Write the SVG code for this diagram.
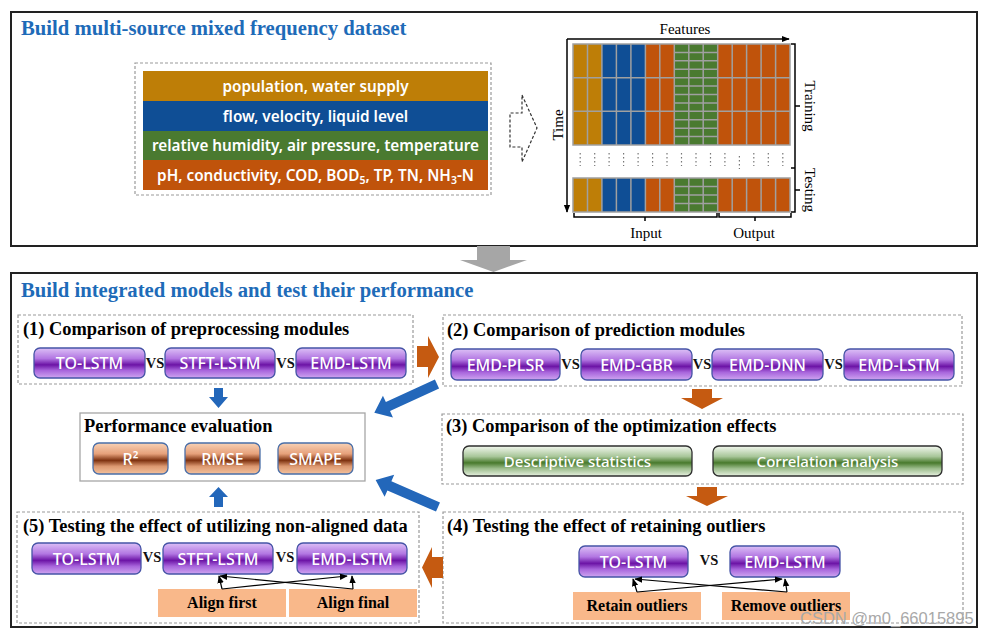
<svg xmlns="http://www.w3.org/2000/svg" width="991" height="636" viewBox="0 0 991 636">
<defs>
<linearGradient id="gP" x1="0" y1="0" x2="0" y2="1">
<stop offset="0" stop-color="#DCC0F6"/><stop offset="0.35" stop-color="#B276E2"/><stop offset="0.56" stop-color="#6C14A6"/><stop offset="0.75" stop-color="#A865DC"/><stop offset="1" stop-color="#CFA6F1"/>
</linearGradient>
<linearGradient id="gC" x1="0" y1="0" x2="0" y2="1">
<stop offset="0" stop-color="#F8D2B6"/><stop offset="0.35" stop-color="#E6A07A"/><stop offset="0.56" stop-color="#7E3210"/><stop offset="0.75" stop-color="#DC9870"/><stop offset="1" stop-color="#F4C29E"/>
</linearGradient>
<linearGradient id="gG" x1="0" y1="0" x2="0" y2="1">
<stop offset="0" stop-color="#F3F8EF"/><stop offset="0.35" stop-color="#A8C699"/><stop offset="0.56" stop-color="#487A2C"/><stop offset="0.75" stop-color="#9CBD8C"/><stop offset="1" stop-color="#E7F0E0"/>
</linearGradient>
<marker id="ah" viewBox="0 0 10 10" refX="9" refY="5" markerWidth="8" markerHeight="8" orient="auto" markerUnits="userSpaceOnUse"><path d="M0,1 L10,5 L0,9 z" fill="#000"/></marker>
<style>
.panel{fill:#fff;stroke:#222;stroke-width:2}
.dash{fill:none;stroke:#9A9A9A;stroke-width:1.2;stroke-dasharray:3 2}
.h1{font-family:"Liberation Serif","Times New Roman",serif;font-weight:bold;font-size:20.7px;fill:#1E6BB8}
.h2{font-family:"Liberation Serif","Times New Roman",serif;font-weight:bold;font-size:18.4px;fill:#000}
.vs{font-family:"Liberation Serif","Times New Roman",serif;font-weight:bold;font-size:14.5px;fill:#111;text-anchor:middle}
.lab{font-family:"Liberation Serif","Times New Roman",serif;font-size:15px;fill:#000}
.band{font-family:"Noto Sans","DejaVu Sans",sans-serif;font-weight:600;font-size:15.3px;fill:#fff;text-anchor:middle}
.bp{fill:url(#gP);stroke:#4654A6;stroke-width:1.3}
.bc{fill:url(#gC);stroke:#4A6FA8;stroke-width:1.3}
.bg{fill:url(#gG);stroke:#2E2E2E;stroke-width:1.3}
.bt{font-family:"Noto Sans","DejaVu Sans",sans-serif;font-weight:500;font-size:16px;fill:#fff;text-anchor:middle}
.gt{font-family:"Noto Sans","DejaVu Sans",sans-serif;font-weight:500;font-size:15px;fill:#fff;text-anchor:middle}
.ob{fill:#F9B88A}
.ot{font-family:"Liberation Serif","Times New Roman",serif;font-weight:bold;font-size:16px;fill:#000;text-anchor:middle}
.thin{fill:none;stroke:#000;stroke-width:1.2;marker-end:url(#ah)}
.oa{fill:#C55A11}
.ba{fill:#2367BA}
.grid{fill:none;stroke:#A0A0A0;stroke-width:1.5}
.dots{fill:none;stroke:#777;stroke-width:1.2;stroke-dasharray:1.5 2.5}
</style>
</defs>
<rect width="991" height="636" fill="#fff"/>

<!-- Panel 1 -->
<g id="panel-dataset">
<rect class="panel" x="11" y="12" width="966" height="234"/>
<text class="h1" x="21" y="35">Build multi-source mixed frequency dataset</text>
</g>

<g id="data-sources">
<rect class="dash" x="135" y="63" width="356" height="132"/>
<rect x="143" y="71" width="345" height="30" fill="#BE7E07"/>
<rect x="143" y="101" width="345" height="30" fill="#0F4E95"/>
<rect x="143" y="131" width="345" height="29" fill="#4A7A30"/>
<rect x="143" y="160" width="345" height="30" fill="#C0530B"/>
<text class="band" x="315.5" y="91.5">population, water supply</text>
<text class="band" x="315.5" y="121.5">flow, velocity, liquid level</text>
<text class="band" x="315.5" y="151">relative humidity, air pressure,  temperature</text>
<text class="band" x="315.5" y="180.5">pH, conductivity, COD, BOD<tspan font-size="10.5" dy="3">5</tspan><tspan dy="-3">, TP, TN, NH</tspan><tspan font-size="10.5" dy="3">3</tspan><tspan dy="-3">-N</tspan></text>
</g>

<g id="outline-arrow">
<polygon points="522,95 537,128 522,162 522,147 510,147 510,113 522,113" fill="none" stroke="#333" stroke-width="1.2" stroke-dasharray="3 2"/>
</g>

<g id="matrix">
<rect x="573" y="44" width="28.9" height="101" fill="#BE7E07"/>
<rect x="601.9" y="44" width="43.5" height="101" fill="#0F4E95"/>
<rect x="645.4" y="44" width="28.9" height="101" fill="#C0530B"/>
<rect x="674.3" y="44" width="43.4" height="101" fill="#4A7A30"/>
<rect x="717.7" y="44" width="72.3" height="101" fill="#C0530B"/>
<path class="grid" d="M573,44H790V145H573Z M573,77.7H790 M573,111.3H790 M587.5,44V145 M601.9,44V145 M616.4,44V145 M630.9,44V145 M645.4,44V145 M659.8,44V145 M674.3,44V145 M688.8,44V145 M703.2,44V145 M717.7,44V145 M732.2,44V145 M746.6,44V145 M761.1,44V145 M775.6,44V145 M674.3,52.4H717.7 M674.3,60.8H717.7 M674.3,69.3H717.7 M674.3,86.1H717.7 M674.3,94.5H717.7 M674.3,102.9H717.7 M674.3,119.8H717.7 M674.3,128.2H717.7 M674.3,136.6H717.7"/>
<path class="dots" d="M580.2,153V166 M594.7,153V166 M609.1,153V166 M623.6,153V166 M638.1,153V166 M652.6,153V166 M667,153V166 M681.5,153V166 M696,153V166 M710.5,153V166 M724.9,153V166 M739.4,156V169 M753.8,153V166 M768.3,153V166 M782.8,153V166"/>
<rect x="573" y="178" width="28.9" height="34" fill="#BE7E07"/>
<rect x="601.9" y="178" width="43.5" height="34" fill="#0F4E95"/>
<rect x="645.4" y="178" width="28.9" height="34" fill="#C0530B"/>
<rect x="674.3" y="178" width="43.4" height="34" fill="#4A7A30"/>
<rect x="717.7" y="178" width="72.3" height="34" fill="#C0530B"/>
<path class="grid" d="M573,178H790V212H573Z M587.5,178V212 M601.9,178V212 M616.4,178V212 M630.9,178V212 M645.4,178V212 M659.8,178V212 M674.3,178V212 M688.8,178V212 M703.2,178V212 M717.7,178V212 M732.2,178V212 M746.6,178V212 M761.1,178V212 M775.6,178V212 M674.3,186.5H717.7 M674.3,195H717.7 M674.3,203.5H717.7"/>
<line x1="567" y1="39" x2="789" y2="39" stroke="#000" stroke-width="1.5" marker-end="url(#ah)"/>
<line x1="567" y1="39" x2="567" y2="212" stroke="#000" stroke-width="1.5" marker-end="url(#ah)"/>
<text class="lab" x="685" y="34" text-anchor="middle">Features</text>
<text class="lab" transform="translate(563,125) rotate(-90)" text-anchor="middle">Time</text>
<path d="M791,44H795V168H791 M795,168V212H791 M795,106H800 M795,190H800" fill="none" stroke="#000" stroke-width="1.5"/>
<path d="M574,213V217H717V213 M645,217V221 M719,213V217H791V213 M755,217V221" fill="none" stroke="#000" stroke-width="1.5"/>
<text class="lab" transform="translate(805,106) rotate(90)" text-anchor="middle">Training</text>
<text class="lab" transform="translate(805,190) rotate(90)" text-anchor="middle">Testing</text>
<text class="lab" x="646" y="238" text-anchor="middle">Input</text>
<text class="lab" x="754" y="238" text-anchor="middle">Output</text>
</g>

<!-- Panel 2 -->
<g id="panel-models">
<rect class="panel" x="11" y="273" width="966" height="354"/>
<text class="h1" x="21" y="297">Build integrated models and test their performance</text>
</g>

<g id="box1">
<rect class="dash" x="18" y="315" width="395" height="69"/>
<text class="h2" x="23" y="335">(1) Comparison of preprocessing modules</text>
<rect class="bp" x="34" y="348" width="111" height="30" rx="6"/>
<text class="bt" x="89.5" y="369">TO-LSTM</text>
<text class="vs" x="155" y="368">VS</text>
<rect class="bp" x="165" y="348" width="110" height="30" rx="6"/>
<text class="bt" x="220" y="369">STFT-LSTM</text>
<text class="vs" x="285.5" y="368">VS</text>
<rect class="bp" x="296" y="348" width="110" height="30" rx="6"/>
<text class="bt" x="351" y="369">EMD-LSTM</text>
</g>

<g id="box2">
<rect class="dash" x="443" y="315" width="519" height="71"/>
<text class="h2" x="447" y="336">(2) Comparison of prediction modules</text>
<rect class="bp" x="451" y="349" width="109" height="31" rx="6"/>
<text class="bt" x="505.5" y="370.5">EMD-PLSR</text>
<text class="vs" x="570.5" y="369">VS</text>
<rect class="bp" x="581" y="349" width="111" height="31" rx="6"/>
<text class="bt" x="636.5" y="370.5">EMD-GBR</text>
<text class="vs" x="702" y="369">VS</text>
<rect class="bp" x="712" y="349" width="111" height="31" rx="6"/>
<text class="bt" x="767.5" y="370.5">EMD-DNN</text>
<text class="vs" x="833.5" y="369">VS</text>
<rect class="bp" x="844" y="349" width="110" height="31" rx="6"/>
<text class="bt" x="899" y="370.5">EMD-LSTM</text>
</g>

<g id="box3">
<rect class="dash" x="442" y="414" width="521" height="70"/>
<text class="h2" x="446" y="432">(3) Comparison of the optimization effects</text>
<rect class="bg" x="463" y="446" width="229" height="30" rx="6"/>
<text class="gt" x="577.5" y="466.5">Descriptive statistics</text>
<rect class="bg" x="713" y="446" width="229" height="30" rx="6"/>
<text class="gt" x="827.5" y="466.5">Correlation analysis</text>
</g>

<g id="performance">
<rect x="80" y="413" width="285" height="68" fill="#fff" stroke="#A6A6A6" stroke-width="1.3"/>
<text class="h2" x="84" y="432">Performance evaluation</text>
<rect class="bc" x="93" y="443" width="75" height="31" rx="6"/>
<text class="bt" x="130.5" y="464.5">R²</text>
<rect class="bc" x="185" y="443" width="75" height="31" rx="6"/>
<text class="bt" x="222.5" y="464.5">RMSE</text>
<rect class="bc" x="278" y="443" width="75" height="31" rx="6"/>
<text class="bt" x="315.5" y="464.5">SMAPE</text>
</g>

<g id="box4">
<rect class="dash" x="443" y="512" width="520" height="111"/>
<text class="h2" x="447" y="532">(4) Testing the effect of retaining outliers</text>
<rect class="bp" x="579" y="546" width="109" height="31" rx="6"/>
<text class="bt" x="633.5" y="567.5">TO-LSTM</text>
<text class="vs" x="709" y="565">VS</text>
<rect class="bp" x="730" y="546" width="110" height="31" rx="6"/>
<text class="bt" x="785" y="567.5">EMD-LSTM</text>
<rect class="ob" x="573" y="592" width="128" height="28"/>
<text class="ot" x="637" y="611">Retain outliers</text>
<rect class="ob" x="722" y="592" width="128" height="28"/>
<text class="ot" x="786" y="611">Remove outliers</text>
</g>

<g id="box5">
<rect class="dash" x="17" y="512" width="402" height="111"/>
<text class="h2" x="23" y="532">(5) Testing the effect of utilizing non-aligned data</text>
<rect class="bp" x="32" y="543" width="109" height="31" rx="6"/>
<text class="bt" x="86.5" y="564.5">TO-LSTM</text>
<text class="vs" x="152" y="562">VS</text>
<rect class="bp" x="163" y="543" width="110" height="31" rx="6"/>
<text class="bt" x="218" y="564.5">STFT-LSTM</text>
<text class="vs" x="285" y="562">VS</text>
<rect class="bp" x="297" y="543" width="110" height="31" rx="6"/>
<text class="bt" x="352" y="564.5">EMD-LSTM</text>
<rect class="ob" x="158" y="589" width="128" height="28"/>
<text class="ot" x="222" y="608">Align first</text>
<rect class="ob" x="289" y="589" width="128" height="28"/>
<text class="ot" x="353" y="608">Align final</text>
</g>

<g id="connectors">
<polygon fill="#A6A6A6" points="477,246 510,246 510,260 527,260 493.5,272 460,260 477,260"/>
<polygon class="oa" points="417,346 428,346 428,336 439,357 428,378 428,367 417,367"/>
<polygon class="oa" points="692,389 712,389 712,398 723,398 702,409 681,398 692,398"/>
<polygon class="oa" points="697,487 717,487 717,496 728,496 707,506 686,496 697,496"/>
<polygon class="oa" points="443,557 432,557 432,547 422,567.5 432,588 432,578 443,578"/>
<polygon class="ba" points="214,388 223,388 223,397 228,397 218.5,408 209,397 214,397"/>
<polygon class="ba" points="214,507 223,507 223,497 228,497 218.5,487 209,497 214,497"/>
<polygon class="ba" transform="translate(437,384) rotate(155.3)" points="0,-5 54,-5 54,-12 69,0 54,12 54,5 0,5"/>
<polygon class="ba" transform="translate(438,507) rotate(-156.5)" points="0,-5 53,-5 53,-12 68,0 53,12 53,5 0,5"/>
<line class="thin" x1="222" y1="589" x2="219" y2="576"/>
<line class="thin" x1="222" y1="589" x2="347" y2="576"/>
<line class="thin" x1="353" y1="589" x2="352" y2="576"/>
<line class="thin" x1="353" y1="589" x2="220" y2="576"/>
<line class="thin" x1="637" y1="592" x2="633" y2="579"/>
<line class="thin" x1="637" y1="592" x2="782" y2="579"/>
<line class="thin" x1="787" y1="592" x2="785" y2="579"/>
<line class="thin" x1="787" y1="592" x2="635" y2="579"/>
</g>

<text x="800" y="624" font-family="Liberation Sans, Arial, sans-serif" font-size="16.5" fill="#A8A8A8">CSDN @m0_66015895</text>
</svg>
